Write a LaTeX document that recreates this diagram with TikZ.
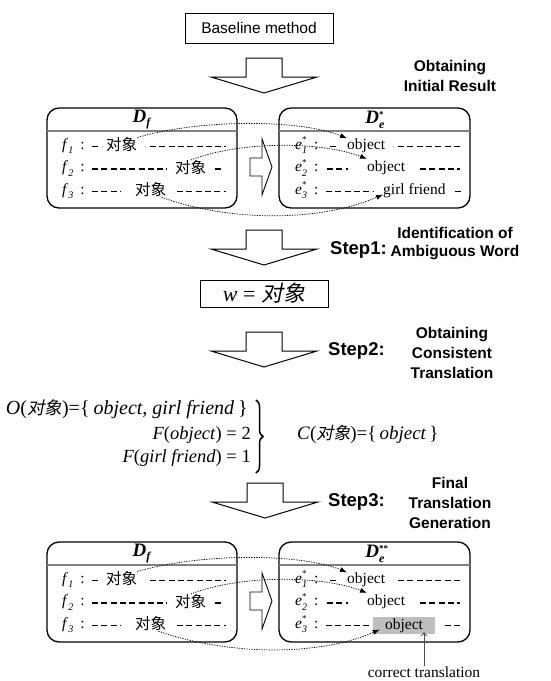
\documentclass[tikz,border=0pt]{standalone}
\usepackage{fontspec}
\setmainfont{Liberation Serif}
\setsansfont{Liberation Sans}
\newfontfamily\cjk{Noto Sans CJK SC}
\newfontfamily\cjkit{Noto Sans CJK SC}[FakeSlant=0.2]
\usetikzlibrary{arrows.meta,decorations.pathreplacing}
\definecolor{hl}{RGB}{190,190,190}
\definecolor{sep}{RGB}{128,128,128}
\newcommand\fsz[1]{\fontsize{#1}{#1}\selectfont}
\newcommand\lbl[3]{\textit{#1}\makebox[0pt][l]{\raisebox{0.42em}{\fsz{9}#3}}\raisebox{-0.3em}{\fsz{10}\textit{#2}}}
\newcommand\panelpair[2]{%
  \draw[panel] (47,108) rectangle (237,208);
  \draw[panel] (279,108) rectangle (470,208);
  \draw[sepline] (47,131) -- (237,131);
  \draw[sepline] (279,131) -- (470,131);
  \node[title] (#1tf) at (142,119.5) {\textit{D}\raisebox{-0.25em}{\fsz{12}\textit{f}}};
  \node[title] (#1te) at (375,119.5) {\textit{D}\makebox[0pt][l]{\raisebox{0.3em}{\fsz{9}#2}}\raisebox{-0.25em}{\fsz{12}\textit{e}}\hspace{3pt}};
  \pic (#1arr) at (250,167) {smallarrow};
  % left rows
  \node[txt] (#1f1) at (62,147) {\lbl{f}{1}{}\hspace{7pt}:};
  \node[txt] (#1f2) at (62,169.5) {\lbl{f}{2}{}\hspace{7pt}:};
  \node[txt] (#1f3) at (62,192) {\lbl{f}{3}{}\hspace{7pt}:};
  \draw[dashline] (92,146.5) -- (100,146.5);
  \node[cjktxt] (#1c1) at (106,148.5) {对象};
  \draw[dashline] (150,146.5) -- (226,146.5);
  \draw[dashline] (92,169) -- (167,169);
  \node[cjktxt] (#1c2) at (175,171) {对象};
  \draw[dashline] (215,169) -- (223,169);
  \draw[dashline] (92,191.5) -- (120,191.5);
  \node[cjktxt] (#1c3) at (135,193.5) {对象};
  \draw[dashline] (177,191.5) -- (226,191.5);
  % right rows
  \node[txt] (#1e1) at (295,147) {\lbl{e}{1}{*}\hspace{7pt}:};
  \node[txt] (#1e2) at (295,169.5) {\lbl{e}{2}{*}\hspace{7pt}:};
  \node[txt] (#1e3) at (295,192) {\lbl{e}{3}{*}\hspace{7pt}:};
  \draw[dashline] (330,146.5) -- (337,146.5);
  \node[txt] (#1o1) at (347,147) {object};
  \draw[dashline] (398,146.5) -- (460,146.5);
  \draw[dashline] (327,169) -- (348,169);
  \node[txt] (#1o2) at (367,169.5) {object};
  \draw[dashline] (420,169) -- (460,169);
  \draw[link] (#1c1.north east) .. controls (200,119) and (300,119) .. (#1o1.north west);
  \draw[link] (#1c2.north) .. controls (240,141) and (320,141) .. ([yshift=2pt]#1o2.north west);
}
\tikzset{
  panel/.style={draw,line width=1.3pt,rounded corners=12pt},
  sepline/.style={draw=sep,line width=2pt},
  title/.style={inner sep=0pt,font=\bfseries\fsz{19}},
  txt/.style={inner sep=0pt,anchor=mid west,font=\fsz{15.5}},
  cjktxt/.style={inner sep=0pt,anchor=mid west,font=\cjk\fsz{15.5}},
  dashline/.style={line width=1.4pt,dash pattern=on 6pt off 3.3pt},
  link/.style={line width=0.7pt,dash pattern=on 1.3pt off 1.2pt,-{Latex[length=7pt,width=5pt]}},
  sanslab/.style={inner sep=0pt,align=center,font=\sffamily\bfseries\fontsize{15.5}{20}\selectfont},
  steplab/.style={inner sep=0pt,anchor=mid west,font=\sffamily\bfseries\fsz{18.5}},
  fml/.style={inner sep=0pt,font=\fsz{18.5}},
  bigarrow/.pic={\draw[line width=1pt,fill=white] (-18,0) -- (18,0) -- (18,19) -- (53,19) -- (0,35) -- (-53,19) -- (-18,19) -- cycle;},
  smallarrow/.pic={\draw[line width=0.9pt,fill=white] (0,-9) -- (12,-9) -- (12,-28) -- (22,0) -- (12,28) -- (12,9) -- (0,9) -- cycle;}
}
\begin{document}
\begin{tikzpicture}[x=1pt,y=-1pt]
\useasboundingbox[fill=white] (0,0) rectangle (550,681);
\node[draw,line width=0.9pt,minimum width=148pt,minimum height=30pt,font=\sffamily\fsz{15.5}] (bm) at (259,28) {Baseline method};
\pic (a1) at (264,58) {bigarrow};
\node[sanslab] (l0) at (450,75.5) {Obtaining\\Initial Result};
% upper panels
\panelpair{U}{*}
\node[txt] (Uo3) at (383,192) {girl friend};
\draw[dashline] (455,191.5) -- (462,191.5);
\draw[dashline] (326,191.5) -- (373,191.5);
\draw[link] ([xshift=-5pt]Uc3.south east) .. controls (230,222) and (320,222) .. ([yshift=-4pt]Uo3.west);
% step 1
\pic (a2) at (264,230) {bigarrow};
\node[steplab] (s1) at (330,252) {Step1:};
\node[sanslab,font=\sffamily\bfseries\fontsize{15.5}{18}\selectfont] (l1) at (455,244) {Identification of\\Ambiguous Word};
\node[draw,line width=1pt,minimum width=128pt,minimum height=27pt,inner sep=0pt] (wbox) at (264,293.5) {\fsz{22}\textit{w} = {\cjkit 对象}};
% step 2
\pic (a3) at (264,332) {bigarrow};
\node[steplab] (s2) at (328,353) {Step2:};
\node[sanslab] (l2) at (452,352.5) {Obtaining\\Consistent\\Translation};
\node[fml,anchor=mid east,font=\fsz{20}] (oset) at (248,412) {\textit{O}({\cjkit\fsz{17.5}对象})=\{\hspace{4pt}\textit{object}, \textit{girl friend}\hspace{4pt}\}};
\node[fml,anchor=mid east] (fo) at (251,437) {\textit{F}(\textit{object}) = 2};
\node[fml,anchor=mid east] (fg) at (251,460) {\textit{F}(\textit{girl friend}) = 1};
\draw[decorate,decoration={brace,amplitude=7pt},line width=1.5pt] (256,400) -- (256,473);
\node[fml,anchor=mid west,font=\fsz{19}] (cset) at (297,437) {\textit{C}({\cjkit\fsz{17}对象})=\{\hspace{3pt}\textit{object}\hspace{3pt}\}};
% step 3
\pic (a4) at (265,483) {bigarrow};
\node[steplab] (s3) at (328,504) {Step3:};
\node[sanslab] (l3) at (450,503) {Final\\Translation\\Generation};
% lower panels
\begin{scope}[yshift=-434pt]
\panelpair{L}{**}
\draw[dashline] (326,191.5) -- (372,191.5);
\node[inner sep=0pt,fill=hl,minimum width=62pt,minimum height=17pt,font=\fsz{15.5}] (Lo3) at (404,191.5) {object};
\draw[dashline] (445,191.5) -- (460,191.5);
\draw[link] ([xshift=-8pt]Lc3.south east) .. controls (230,222) and (320,222) .. ([xshift=7pt,yshift=-4pt]Lo3.west);
\end{scope}
\node[inner sep=0pt,font=\fsz{15.5}] (ct) at (424,672) {correct translation};
\draw[-{To[length=4pt,width=7pt]},draw=black!70,line width=0.8pt] (ct.north) -- ([yshift=2pt]ct.north |- Lo3.south);
\end{tikzpicture}
\end{document}
